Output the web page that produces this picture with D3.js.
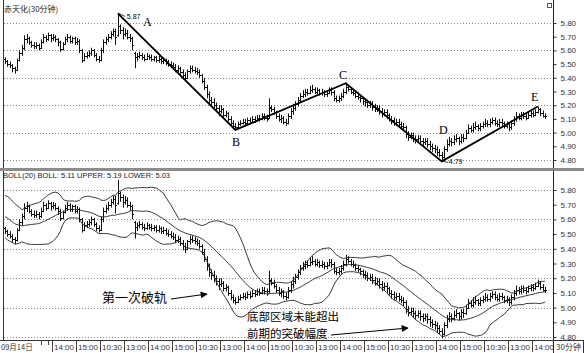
<!DOCTYPE html>
<html><head><meta charset="utf-8">
<script src="https://cdn.jsdelivr.net/npm/d3@7"></script>
<style>body{margin:0;background:#fff}svg{display:block}</style>
</head><body><svg id="c" width="584" height="353"></svg>
<script>
// ---- data: 30-minute bars ----
const opens=[
5.54,5.52,5.50,5.49,5.47,5.46,5.53,5.58,5.62,5.68,
5.69,5.66,5.64,5.63,5.64,5.62,5.66,5.70,5.68,5.71,
5.69,5.70,5.68,5.66,5.61,5.65,5.68,5.70,5.67,5.69,
5.66,5.67,5.60,5.53,5.56,5.57,5.58,5.60,5.57,5.54,
5.53,5.60,5.66,5.68,5.70,5.72,5.74,5.71,5.78,5.75,
5.72,5.73,5.70,5.69,5.58,5.55,5.56,5.57,5.55,5.54,
5.56,5.55,5.54,5.55,5.53,5.54,5.52,5.53,5.51,5.50,
5.49,5.48,5.46,5.47,5.44,5.42,5.40,5.45,5.47,5.46,
5.45,5.44,5.42,5.38,5.33,5.28,5.24,5.22,5.20,5.18,
5.16,5.17,5.13,5.14,5.10,5.07,5.05,5.04,5.06,5.07,
5.08,5.07,5.09,5.08,5.10,5.09,5.11,5.10,5.12,5.11,
5.11,5.19,5.17,5.15,5.12,5.10,5.11,5.08,5.07,5.12,
5.16,5.18,5.21,5.24,5.27,5.28,5.30,5.29,5.31,5.32,
5.30,5.31,5.29,5.30,5.28,5.29,5.31,5.30,5.25,5.24,
5.25,5.27,5.30,5.33,5.32,5.30,5.29,5.27,5.26,5.25,
5.23,5.22,5.20,5.21,5.19,5.17,5.18,5.16,5.14,5.15,
5.13,5.10,5.09,5.07,5.08,5.06,5.05,5.04,4.99,4.97,
4.98,4.96,4.95,4.96,4.94,4.93,4.94,4.92,4.90,4.89,
4.88,4.86,4.84,4.82,4.88,4.92,4.94,4.93,4.95,4.96,
4.94,4.97,4.96,5.00,5.03,5.02,5.04,5.05,5.03,5.05,
5.06,5.07,5.06,5.08,5.09,5.07,5.06,5.08,5.07,5.05,
5.06,5.04,5.07,5.10,5.12,5.11,5.13,5.12,5.11,5.13,
5.14,5.13,5.15,5.17,5.14,5.12];
const highs=[
5.55,5.53,5.52,5.50,5.48,5.54,5.60,5.64,5.71,5.72,
5.70,5.67,5.66,5.66,5.65,5.68,5.72,5.71,5.73,5.72,
5.72,5.71,5.69,5.67,5.66,5.70,5.72,5.71,5.70,5.70,
5.69,5.68,5.61,5.58,5.59,5.60,5.62,5.61,5.58,5.56,
5.62,5.68,5.70,5.72,5.74,5.76,5.76,5.87,5.79,5.77,
5.76,5.75,5.72,5.70,5.59,5.58,5.59,5.58,5.57,5.58,
5.57,5.57,5.56,5.56,5.56,5.55,5.55,5.54,5.53,5.52,
5.51,5.50,5.49,5.48,5.46,5.44,5.46,5.49,5.49,5.48,
5.47,5.46,5.43,5.40,5.35,5.30,5.26,5.25,5.22,5.20,
5.20,5.18,5.16,5.15,5.12,5.09,5.07,5.08,5.09,5.10,
5.10,5.11,5.11,5.12,5.12,5.13,5.13,5.14,5.14,5.13,
5.25,5.20,5.19,5.16,5.14,5.13,5.12,5.10,5.14,5.18,
5.21,5.23,5.26,5.29,5.31,5.32,5.32,5.34,5.35,5.33,
5.33,5.32,5.32,5.31,5.31,5.33,5.33,5.31,5.27,5.27,
5.29,5.32,5.36,5.35,5.33,5.32,5.30,5.29,5.27,5.26,
5.25,5.24,5.23,5.23,5.21,5.20,5.20,5.18,5.17,5.17,
5.14,5.12,5.11,5.10,5.10,5.08,5.07,5.05,5.01,5.00,
5.00,4.98,4.98,4.98,4.96,4.96,4.96,4.94,4.92,4.91,
4.90,4.88,4.86,4.90,4.95,4.97,4.96,4.98,4.99,4.97,
4.99,4.99,5.02,5.06,5.05,5.07,5.08,5.06,5.07,5.08,
5.10,5.09,5.10,5.11,5.11,5.09,5.10,5.10,5.08,5.08,
5.07,5.09,5.12,5.15,5.14,5.15,5.15,5.14,5.15,5.16,
5.16,5.17,5.19,5.18,5.16,5.14];
const lows=[
5.50,5.48,5.47,5.44,5.43,5.45,5.52,5.56,5.60,5.65,
5.64,5.62,5.61,5.61,5.60,5.61,5.65,5.66,5.67,5.66,
5.67,5.66,5.63,5.59,5.60,5.64,5.66,5.65,5.65,5.64,
5.64,5.58,5.51,5.52,5.54,5.55,5.56,5.55,5.52,5.51,
5.52,5.58,5.64,5.66,5.68,5.70,5.64,5.70,5.72,5.68,
5.70,5.68,5.66,5.60,5.47,5.52,5.54,5.53,5.52,5.53,
5.53,5.52,5.52,5.51,5.51,5.50,5.50,5.49,5.48,5.47,
5.46,5.44,5.44,5.42,5.39,5.37,5.39,5.43,5.44,5.43,
5.42,5.40,5.36,5.31,5.25,5.21,5.19,5.17,5.15,5.12,
5.14,5.11,5.11,5.08,5.05,5.03,5.02,5.03,5.05,5.06,
5.05,5.06,5.06,5.07,5.07,5.08,5.08,5.09,5.09,5.08,
5.10,5.15,5.13,5.10,5.08,5.07,5.06,5.05,5.06,5.10,
5.13,5.16,5.19,5.22,5.25,5.26,5.27,5.28,5.29,5.28,
5.28,5.27,5.27,5.26,5.26,5.28,5.27,5.23,5.22,5.22,
5.23,5.25,5.28,5.30,5.28,5.27,5.25,5.24,5.22,5.20,
5.19,5.18,5.18,5.16,5.15,5.15,5.13,5.11,5.12,5.10,
5.08,5.06,5.05,5.05,5.04,5.03,5.01,4.96,4.94,4.95,
4.93,4.92,4.93,4.91,4.90,4.91,4.89,4.87,4.86,4.85,
4.83,4.82,4.79,4.81,4.86,4.90,4.90,4.91,4.93,4.91,
4.92,4.93,4.95,4.99,5.00,5.00,5.02,5.01,5.01,5.03,
5.04,5.04,5.04,5.06,5.05,5.04,5.04,5.05,5.03,5.03,
5.01,5.02,5.05,5.08,5.09,5.09,5.10,5.09,5.10,5.11,
5.11,5.12,5.14,5.12,5.11,5.10];
const closes=[
5.52,5.50,5.49,5.47,5.46,5.53,5.58,5.62,5.68,5.69,
5.66,5.64,5.63,5.64,5.62,5.66,5.70,5.68,5.71,5.69,
5.70,5.68,5.66,5.61,5.65,5.68,5.70,5.67,5.69,5.66,
5.67,5.60,5.53,5.56,5.57,5.58,5.60,5.57,5.54,5.53,
5.60,5.66,5.68,5.70,5.72,5.74,5.70,5.78,5.75,5.72,
5.73,5.70,5.69,5.64,5.55,5.56,5.57,5.55,5.54,5.56,
5.55,5.54,5.55,5.53,5.54,5.52,5.53,5.51,5.50,5.49,
5.48,5.46,5.47,5.44,5.42,5.40,5.45,5.47,5.46,5.45,
5.44,5.42,5.38,5.33,5.28,5.24,5.22,5.20,5.18,5.16,
5.17,5.13,5.14,5.10,5.07,5.05,5.04,5.06,5.07,5.08,
5.07,5.09,5.08,5.10,5.09,5.11,5.10,5.12,5.11,5.10,
5.18,5.17,5.15,5.12,5.10,5.11,5.08,5.07,5.12,5.16,
5.18,5.21,5.24,5.27,5.28,5.30,5.29,5.31,5.32,5.30,
5.31,5.29,5.30,5.28,5.29,5.31,5.30,5.25,5.24,5.25,
5.27,5.30,5.33,5.32,5.30,5.29,5.27,5.26,5.25,5.23,
5.22,5.20,5.21,5.19,5.17,5.18,5.16,5.14,5.15,5.13,
5.10,5.09,5.07,5.08,5.06,5.05,5.04,4.99,4.97,4.98,
4.96,4.95,4.96,4.94,4.93,4.94,4.92,4.90,4.89,4.88,
4.86,4.84,4.82,4.88,4.92,4.94,4.93,4.95,4.96,4.94,
4.97,4.96,5.00,5.03,5.02,5.04,5.05,5.03,5.05,5.06,
5.07,5.06,5.08,5.09,5.07,5.06,5.08,5.07,5.05,5.06,
5.04,5.07,5.10,5.12,5.11,5.13,5.12,5.11,5.13,5.14,
5.13,5.15,5.17,5.14,5.12,5.12];
// closes of the 19 bars before the visible window (needed by BOLL(20))
const preCloses=[5.70,5.72,5.74,5.71,5.68,5.66,5.69,5.65,5.62,5.63,5.60,5.58,5.61,5.57,5.55,5.53,5.56,5.54,5.52];

const priceTicks=[4.8,4.9,5.0,5.1,5.2,5.3,5.4,5.5,5.6,5.7,5.8];
const gridTicks=[4.8,5.0,5.2,5.4,5.6,5.8];
const timeTickIdx=[20,30,40,50,60,70,80,90,100,110,120,130,140,150,160,170,180,190,200,210,220];
const timeTickLabels=["14:00","15:00","10:30","13:00","14:00","15:00","10:30","13:00","14:00","15:00","10:30","13:00","14:00","15:00","10:30","13:00","14:00","15:00","10:30","13:00","14:00"];
const pivots=[{name:"A",i:47,p:5.87},{name:"B",i:96,p:5.02},{name:"C",i:142,p:5.36},{name:"D",i:182,p:4.79},{name:"E",i:222,p:5.19}];

// ---- drawing ----
const svg=d3.select("#c");
const N=closes.length;
const AX=553.5;
const x=d3.scaleLinear().domain([0,N-1]).range([5,545]);
const yT=d3.scaleLinear().domain([4.8,5.8]).range([160,23]);
const yB=d3.scaleLinear().domain([4.8,5.8]).range([337,190]);
const SANS="'Liberation Sans',Arial,sans-serif";
const CJK="'Noto Sans CJK SC',sans-serif";
const SERIF="'Liberation Serif','DejaVu Serif',serif";

svg.append("rect").attr("width",584).attr("height",353).attr("fill","#fff");

const defs=svg.append("defs");
defs.append("clipPath").attr("id","clipT").append("rect").attr("x",4).attr("y",0).attr("width",549).attr("height",168);
defs.append("clipPath").attr("id","clipB").append("rect").attr("x",4).attr("y",172).attr("width",549).attr("height",169);
defs.append("marker").attr("id","arr").attr("viewBox","0 0 10 10").attr("refX",9).attr("refY",5)
  .attr("markerWidth",9).attr("markerHeight",7).attr("markerUnits","userSpaceOnUse").attr("orient","auto")
  .append("path").attr("d","M0,0L10,5L0,10Z").attr("fill","#000");

function grid(y){
  svg.append("g").selectAll("line").data(gridTicks).join("line")
    .attr("x1",4).attr("x2",AX).attr("y1",d=>Math.round(y(d))+0.5).attr("y2",d=>Math.round(y(d))+0.5)
    .attr("stroke","#8a8a8a").attr("stroke-width",1).attr("stroke-dasharray","1,2");
}
grid(yT); grid(yB);

function barsPath(y){
  let p="";
  for(let i=0;i<N;i++){
    const xi=Math.round(x(i))+0.5;
    const o=Math.round(y(opens[i]))+0.5, c=Math.round(y(closes[i]))+0.5;
    p+=`M${xi},${y(highs[i]).toFixed(1)}V${y(lows[i]).toFixed(1)}M${xi-1.5},${o}H${xi}M${xi},${c}H${xi+1.5}`;
  }
  return p;
}
svg.append("path").attr("clip-path","url(#clipT)").attr("d",barsPath(yT)).attr("stroke","#111").attr("stroke-width",1).attr("fill","none");
svg.append("path").attr("clip-path","url(#clipB)").attr("d",barsPath(yB)).attr("stroke","#111").attr("stroke-width",1).attr("fill","none");

// BOLL(20)
const all=preCloses.concat(closes);
const P=preCloses.length;
const mid=[],up=[],lo=[];
for(let i=0;i<N;i++){
  const w=all.slice(i+P-19,i+P+1);
  const m=d3.mean(w), s=d3.deviation(w);
  mid.push(m); up.push(m+2*s); lo.push(m-2*s);
}
const bl=(arr)=>d3.line().x((d,i)=>x(i)).y(d=>yB(d)).curve(d3.curveLinear)(arr);
const gB=svg.append("g").attr("clip-path","url(#clipB)").attr("fill","none").attr("stroke","#222").attr("stroke-width",0.9);
[up,mid,lo].forEach(a=>gB.append("path").attr("d",bl(a)));

// trend lines
svg.append("path").attr("d",d3.line().x(d=>x(d.i)).y(d=>yT(d.p))(pivots))
  .attr("fill","none").attr("stroke","#000").attr("stroke-width",1.8);
const labelPos={A:[143,26],B:[232,146],C:[339,79],D:[439,134],E:[531,101]};
svg.append("g").selectAll("text").data(pivots).join("text")
  .attr("x",d=>labelPos[d.name][0]).attr("y",d=>labelPos[d.name][1])
  .attr("font-family",SERIF).attr("font-size",12).attr("fill","#000").text(d=>d.name);
// extreme value markers
const hi=pivots[0], lw=pivots[3];
svg.append("line").attr("x1",x(hi.i)+1).attr("y1",yT(hi.p)).attr("x2",x(hi.i)+7).attr("y2",yT(hi.p)+3).attr("stroke","#000").attr("stroke-width",0.8);
svg.append("text").attr("x",x(hi.i)+9).attr("y",yT(hi.p)+6).attr("font-family",SANS).attr("font-size",7).attr("fill","#000").text(hi.p.toFixed(2));
svg.append("line").attr("x1",x(lw.i)+1).attr("y1",yT(lw.p)).attr("x2",x(lw.i)+6).attr("y2",yT(lw.p)+1).attr("stroke","#000").attr("stroke-width",0.8);
svg.append("text").attr("x",x(lw.i)+7).attr("y",yT(lw.p)+3).attr("font-family",SANS).attr("font-size",7).attr("fill","#000").text(lw.p.toFixed(2));

// frame
svg.append("line").attr("x1",3.5).attr("x2",3.5).attr("y1",0).attr("y2",341).attr("stroke","#333");
svg.append("line").attr("x1",AX).attr("x2",AX).attr("y1",0).attr("y2",353).attr("stroke","#222");
svg.append("rect").attr("x",0).attr("y",168).attr("width",584).attr("height",3).attr("fill","#8c8c8c");
svg.append("line").attr("x1",0).attr("x2",584).attr("y1",340.5).attr("y2",340.5).attr("stroke","#333");
svg.append("line").attr("x1",583.5).attr("x2",583.5).attr("y1",340).attr("y2",353).attr("stroke","#333");

// right axes
function rAxis(y){
  const g=svg.append("g").attr("transform",`translate(${AX},0)`)
    .call(d3.axisRight(y).tickValues(priceTicks).tickFormat(d3.format(".2f")).tickSize(3).tickPadding(4));
  g.select(".domain").remove();
  g.selectAll("text").attr("font-family",SANS).attr("font-size",8).attr("fill","#333");
  g.selectAll("line").attr("stroke","#333");
}
rAxis(yT); rAxis(yB);

// time axis
const gx=svg.append("g");
gx.selectAll("line").data(timeTickIdx).join("line")
  .attr("x1",d=>Math.round(x(d))-0.5).attr("x2",d=>Math.round(x(d))-0.5).attr("y1",341).attr("y2",352)
  .attr("stroke","#444");
gx.selectAll("text").data(timeTickIdx).join("text")
  .attr("x",d=>Math.round(x(d))+1).attr("y",350).attr("font-family",SANS).attr("font-size",8).attr("fill","#333")
  .text((d,i)=>timeTickLabels[i]);
[15,18].forEach(i=>gx.append("line").attr("x1",Math.round(x(i))+0.5).attr("x2",Math.round(x(i))+0.5).attr("y1",341).attr("y2",345).attr("stroke","#444"));
gx.append("text").attr("x",1).attr("y",350).attr("font-family",CJK).attr("font-size",7.5).attr("fill","#333").text("09月14日");
gx.append("text").attr("x",556).attr("y",350).attr("font-family",CJK).attr("font-size",8).attr("fill","#333").text("30分钟");

// titles
svg.append("text").attr("x",4).attr("y",12).attr("font-family",CJK).attr("font-size",8).attr("fill","#222").text("赤天化(30分钟)");
svg.append("text").attr("x",3).attr("y",178).attr("font-family",SANS).attr("font-size",7.5).attr("fill","#222").text("BOLL(20) BOLL: 5.11 UPPER: 5.19 LOWER: 5.03");
svg.append("rect").attr("x",547.5).attr("y",3.5).attr("width",4).attr("height",4).attr("fill","none").attr("stroke","#555");

// annotations
svg.append("text").attr("x",102).attr("y",302).attr("font-family",CJK).attr("font-size",13).attr("fill","#000").text("第一次破轨");
svg.append("line").attr("x1",171).attr("y1",299).attr("x2",207).attr("y2",294).attr("stroke","#000").attr("stroke-width",1).attr("marker-end","url(#arr)");
svg.append("text").attr("x",247).attr("y",321).attr("font-family",CJK).attr("font-size",11.5).attr("fill","#000").text("底部区域未能超出");
svg.append("text").attr("x",247).attr("y",338).attr("font-family",CJK).attr("font-size",11.5).attr("fill","#000").text("前期的突破幅度");
svg.append("line").attr("x1",331).attr("y1",335).attr("x2",408).attr("y2",328).attr("stroke","#000").attr("stroke-width",1).attr("marker-end","url(#arr)");
</script></body></html>
